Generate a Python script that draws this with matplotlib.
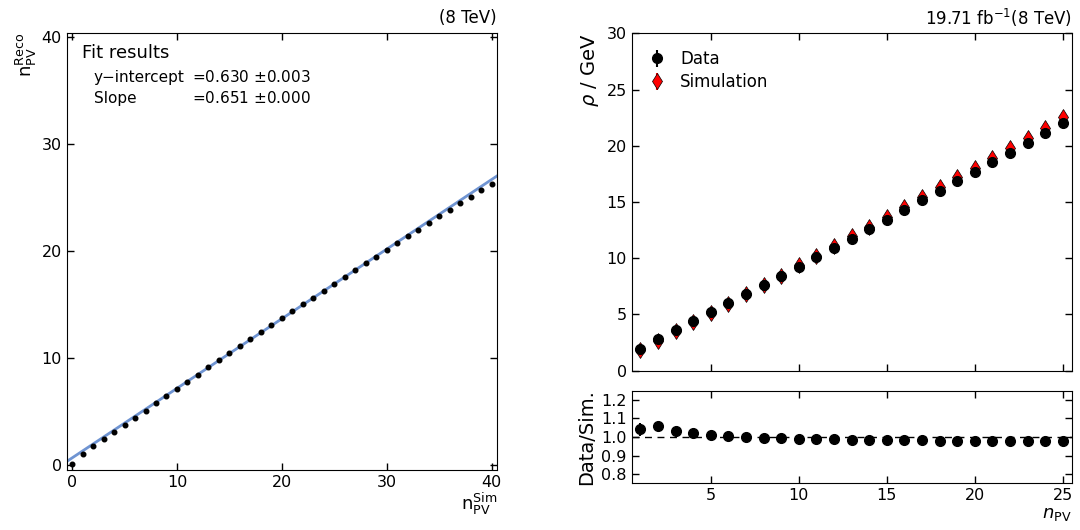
import numpy as np
import matplotlib
matplotlib.use("Agg")
import matplotlib.pyplot as plt

plt.rcParams['font.family'] = ['DejaVu Sans']
plt.rcParams['mathtext.fontset'] = 'dejavusans'

# ==============================
# DATA
# ==============================
# left panel: reco vs sim number of primary vertices
n_sim = np.arange(0, 41)
n_reco = [0.02, 0.98, 1.70, 2.38, 3.06, 3.75, 4.40, 5.05, 5.74, 6.42,
          7.07, 7.76, 8.41, 9.12, 9.77, 10.43, 11.08, 11.74, 12.39, 13.04,
          13.69, 14.35, 15.00, 15.63, 16.28, 16.93, 17.57, 18.21, 18.83, 19.45,
          20.10, 20.73, 21.35, 21.97, 22.59, 23.21, 23.83, 24.46, 25.05, 25.67,
          26.23]
fit_intercept = 0.630
fit_slope = 0.651

# right panel: rho vs n_PV
n_pv = np.arange(1, 26)
rho_data = [1.96, 2.83, 3.63, 4.40, 5.21, 6.01, 6.82, 7.59, 8.42, 9.26,
            10.09, 10.92, 11.76, 12.59, 13.45, 14.32, 15.15, 16.01, 16.85, 17.71,
            18.54, 19.40, 20.30, 21.16, 22.05]
rho_sim = [1.88, 2.67, 3.52, 4.31, 5.15, 5.97, 6.81, 7.62, 8.46, 9.36,
           10.21, 11.05, 11.95, 12.79, 13.70, 14.58, 15.43, 16.35, 17.21, 18.07,
           18.94, 19.82, 20.72, 21.61, 22.57]
data_err = [0.07, 0.03, 0.02, 0.02, 0.02, 0.02, 0.02, 0.02, 0.02, 0.02,
            0.02, 0.02, 0.02, 0.02, 0.02, 0.02, 0.02, 0.02, 0.02, 0.02,
            0.02, 0.02, 0.02, 0.02, 0.03]
sim_err = [0.25, 0.12, 0.08, 0.06, 0.05, 0.04, 0.04, 0.04, 0.04, 0.04,
           0.04, 0.04, 0.04, 0.04, 0.04, 0.04, 0.04, 0.04, 0.04, 0.04,
           0.04, 0.04, 0.05, 0.05, 0.06]
ratio_err = [0.035, 0.012, 0.008, 0.006, 0.005, 0.004, 0.004, 0.004, 0.004, 0.004,
             0.004, 0.004, 0.004, 0.004, 0.004, 0.004, 0.004, 0.004, 0.004, 0.004,
             0.004, 0.004, 0.004, 0.004, 0.005]

ratio = np.array(rho_data) / np.array(rho_sim)

# ==============================
# FIGURE
# ==============================
fig = plt.figure(figsize=(10.8, 5.3), dpi=100)
ax1 = fig.add_axes([0.0619, 0.1132, 0.3982, 0.8251])
ax2 = fig.add_axes([0.5849, 0.3006, 0.4074, 0.6362])
ax3 = fig.add_axes([0.5849, 0.0881, 0.4074, 0.1747])

for ax in (ax1, ax2, ax3):
    ax.tick_params(direction='in', top=True, right=True, length=5, width=1,
                   labelsize=11.5)

# left panel
xfit = np.array([-0.5, 40.5])
ax1.plot(xfit, fit_intercept + fit_slope * xfit, color='#6f94d2', lw=2, zorder=2)
ax1.plot(n_sim, n_reco, 'o', color='black', ms=3.3, zorder=3)
ax1.set_xlim(-0.5, 40.5)
ax1.set_ylim(-0.5, 40.4)
ax1.set_xticks([0, 10, 20, 30, 40])
ax1.set_yticks([0, 10, 20, 30, 40])
ax1.set_xlabel(r'$\mathregular{n_{PV}^{Sim}}$', loc='right', fontsize=13, labelpad=1)
ax1.set_ylabel(r'$\mathregular{n_{PV}^{Reco}}$', loc='top', fontsize=13, labelpad=2)
ax1.text(1.0, 1.012, '(8 TeV)', transform=ax1.transAxes, ha='right',
         va='bottom', fontsize=12)
ax1.text(0.035, 0.975, 'Fit results', transform=ax1.transAxes, ha='left',
         va='top', fontsize=13)
ax1.text(0.063, 0.898, 'y\u2212intercept', transform=ax1.transAxes, ha='left',
         va='center', fontsize=11)
ax1.text(0.29, 0.898, '=%.3f $\\pm$0.003' % fit_intercept, transform=ax1.transAxes,
         ha='left', va='center', fontsize=11)
ax1.text(0.063, 0.850, 'Slope', transform=ax1.transAxes, ha='left',
         va='center', fontsize=11)
ax1.text(0.29, 0.850, '=%.3f $\\pm$0.000' % fit_slope, transform=ax1.transAxes,
         ha='left', va='center', fontsize=11)

# right panel
ax2.errorbar(n_pv, rho_sim, yerr=sim_err, fmt='d', color='red', mec='black',
             mew=0.5, ms=8, ecolor='red', elinewidth=1.5, label='Simulation',
             zorder=2)
ax2.errorbar(n_pv, rho_data, yerr=data_err, fmt='o', color='black', ms=7,
             elinewidth=1.5, label='Data', zorder=3)
ax2.set_xlim(0.5, 25.5)
ax2.set_ylim(0, 30)
ax2.set_xticks([5, 10, 15, 20, 25])
ax2.set_xticklabels([])
ax2.set_yticks([0, 5, 10, 15, 20, 25, 30])
ax2.set_ylabel(r'$\rho$ / GeV', loc='top', fontsize=14, labelpad=4)
ax2.text(1.0, 1.012, r'19.71 fb$^{-1}$(8 TeV)', transform=ax2.transAxes,
         ha='right', va='bottom', fontsize=12)
handles, labels = ax2.get_legend_handles_labels()
ax2.legend(handles[::-1], labels[::-1], loc='upper left', frameon=False,
           fontsize=12, handlelength=1.0, handletextpad=0.9, labelspacing=0.3,
           borderaxespad=0.6)

# ratio panel
ax3.axhline(1.0, color='black', ls='--', lw=1, dashes=(5, 4), zorder=1)
ax3.errorbar(n_pv, ratio, yerr=ratio_err, fmt='o', color='black', ms=7,
             elinewidth=1.5, zorder=3)
ax3.set_xlim(0.5, 25.5)
ax3.set_ylim(0.75, 1.25)
ax3.set_xticks([5, 10, 15, 20, 25])
ax3.set_yticks([0.8, 0.9, 1.0, 1.1, 1.2])
ax3.set_ylabel('Data/Sim.', fontsize=14, labelpad=4)
ax3.set_xlabel(r'$n_{\rm PV}$', loc='right', fontsize=13, labelpad=1)

fig.savefig('out.png', dpi=100)
